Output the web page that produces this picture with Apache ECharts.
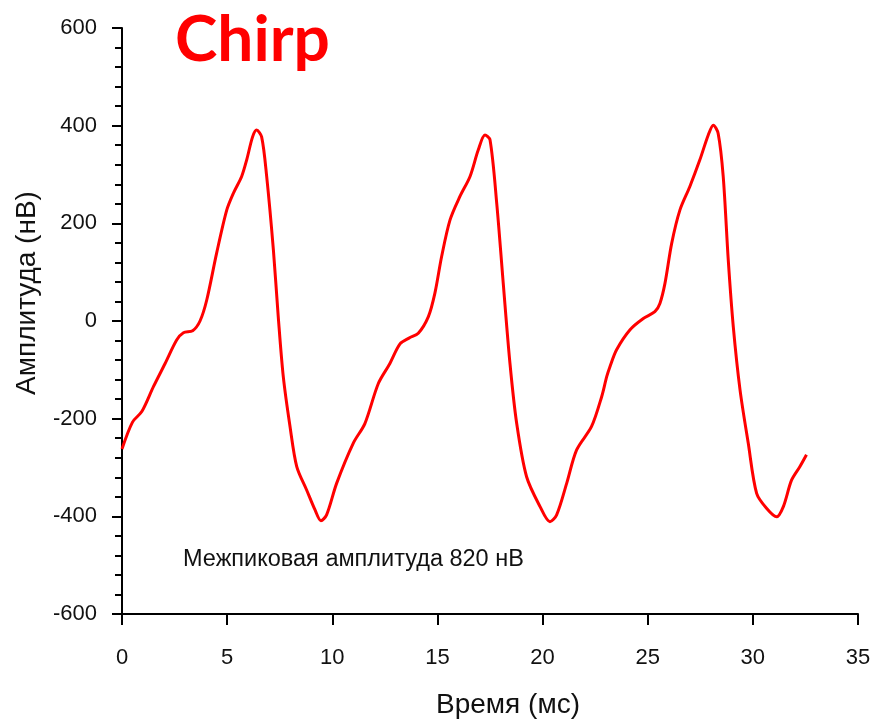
<!DOCTYPE html>
<html>
<head>
<meta charset="utf-8">
<title>Chirp</title>
<script src="https://cdn.jsdelivr.net/npm/echarts@6/dist/echarts.min.js"></script>
<style>
  html, body { margin: 0; padding: 0; background: #fff; }
  #chart { width: 874px; height: 721px; }
</style>
</head>
<body>
<div id="chart"></div>
<script>
// Chirp response waveform: time (ms) and amplitude (nV)
const timeMs = [
  0.0, 0.5, 0.95, 1.5, 2.05, 2.6, 2.92, 3.36, 3.71, 4.03,
  4.5, 4.98, 5.3, 5.69, 5.93, 6.21, 6.4, 6.64, 6.88, 7.2,
  7.43, 7.67, 7.99, 8.31, 8.78, 9.18, 9.46, 9.73, 10.21, 11.0,
  11.55, 12.19, 12.74, 13.22, 13.65, 14.09, 14.57, 14.88, 15.2, 15.6,
  16.07, 16.55, 16.94, 17.26, 17.5, 17.82, 18.13, 18.45, 18.77, 19.24,
  19.88, 20.35, 20.67, 21.15, 21.62, 22.33, 22.81, 23.05, 23.2, 23.52,
  24.16, 24.79, 25.34, 25.58, 25.82, 26.14, 26.53, 27.0, 27.48, 27.88,
  28.12, 28.35, 28.59, 28.83, 29.07, 29.39, 29.78, 30.18, 30.66, 31.13,
  31.45, 31.84, 32.24, 32.55
];
const amplitudeNv = [
  -262, -207, -185, -134, -87, -39, -24, -20, 0, 43,
  139, 227, 262, 296, 330, 377, 391, 377, 296, 145,
  9, -114, -216, -298, -346, -387, -409, -397, -332, -250,
  -210, -128, -87, -47, -35, -25, 9, 57, 132, 207,
  255, 296, 350, 381, 371, 241, 77, -87, -210, -319,
  -380, -411, -397, -332, -264, -216, -155, -114, -94, -59,
  -18, 5, 19, 36, 77, 159, 227, 275, 330, 381,
  401, 384, 296, 125, -12, -141, -250, -353, -384, -401,
  -380, -326, -298, -274
];

const titleText = 'Chirp';
const noteText = 'Межпиковая амплитуда 820 нВ';
const xTitle = 'Время (мс)';
const yTitle = 'Амплитуда (нВ)';

const xRange = { min: 0, max: 35, step: 5 };
const yRange = { min: -600, max: 600, step: 200 };

const seriesData = timeMs.map((t, i) => [t, amplitudeNv[i]]);

const tickFont = "'Liberation Sans', Arial, sans-serif";
const textFont = "'Liberation Sans', Arial, sans-serif";

const chart = echarts.init(document.getElementById('chart'), null, { renderer: 'canvas' });

chart.setOption({
  animation: false,
  backgroundColor: '#ffffff',
  grid: { left: 122, right: 16, top: 28, bottom: 107, containLabel: false },
  xAxis: {
    type: 'value',
    min: xRange.min,
    max: xRange.max,
    interval: xRange.step,
    axisLine: { show: true, onZero: false, lineStyle: { color: '#000', width: 2 } },
    axisTick: { show: true, inside: false, length: 11, lineStyle: { color: '#000', width: 2 } },
    axisLabel: { color: '#111', fontFamily: tickFont, fontSize: 22, margin: 33 },
    splitLine: { show: false }
  },
  yAxis: {
    type: 'value',
    min: yRange.min,
    max: yRange.max,
    interval: yRange.step,
    axisLine: { show: true, onZero: false, lineStyle: { color: '#000', width: 2 } },
    axisTick: { show: true, inside: false, length: 10, lineStyle: { color: '#000', width: 2 } },
    minorTick: { show: true, splitNumber: 5, length: 7, lineStyle: { color: '#000', width: 2 } },
    axisLabel: { color: '#111', fontFamily: tickFont, fontSize: 22, margin: 25 },
    splitLine: { show: false }
  },
  series: [{
    type: 'line',
    data: seriesData,
    showSymbol: false,
    smooth: 0.3,
    lineStyle: { color: '#ff0000', width: 3 },
    z: 3
  }],
  graphic: [
    {
      type: 'text', x: 175, y: 40,
      style: {
        text: titleText, fill: '#ff0000',
        font: "bold 64px Lato, 'Open Sans', sans-serif",
        align: 'left', verticalAlign: 'middle'
      }
    },
    {
      type: 'text', x: 183, y: 560,
      style: {
        text: noteText, fill: '#111',
        font: '23.5px ' + textFont,
        align: 'left', verticalAlign: 'middle'
      }
    },
    {
      type: 'text', x: 508, y: 705,
      style: {
        text: xTitle, fill: '#111',
        font: '28px ' + textFont,
        align: 'center', verticalAlign: 'middle'
      }
    },
    {
      type: 'text', x: 27, y: 293, rotation: Math.PI / 2,
      style: {
        text: yTitle, fill: '#111',
        font: '28px ' + textFont,
        align: 'center', verticalAlign: 'middle'
      }
    }
  ]
});
</script>
</body>
</html>
